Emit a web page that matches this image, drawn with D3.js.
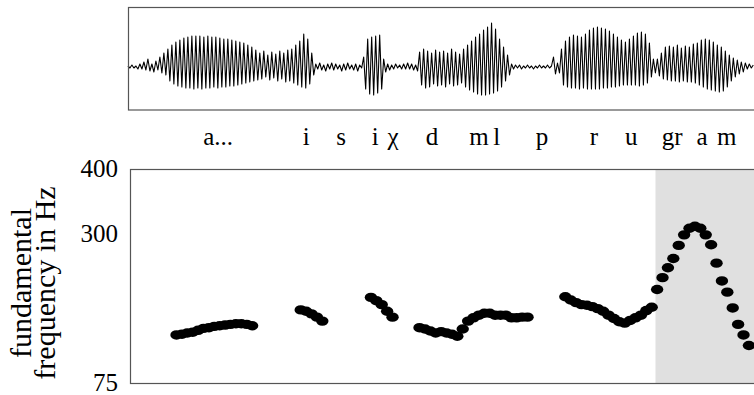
<!DOCTYPE html>
<html>
<head>
<meta charset="utf-8">
<script src="https://cdn.jsdelivr.net/npm/d3@7"></script>
<style>
  body { margin: 0; background: #fff; }
  text { font-family: 'Liberation Serif', 'Times New Roman', serif; fill: #000; }
</style>
</head>
<body>
<div id="chart"></div>
<script>
// speech signal, one value per sample (arbitrary amplitude units)
const waveform = [
  1, -1, 2, -1, 1, -2, 3, -2, 5, -3, 8, -4, 3, -5, 6, -3,
  10, -6, 14, -8,
  18, -14, 22, -17, 25, -19, 27, -20, 29, -21, 30, -21, 31, -22, 31, -21, 31, -22,
  30, -21, 31, -21, 30, -20, 30, -21, 29, -20, 28, -20, 28, -19, 27, -19, 26, -18,
  25, -17, 24, -16, 22, -15, 20, -14, 17,
  -13, 14, -12, 16, -10, 12, -13, 15, -11, 13, -14, 16, -12, 14, -15, 17,
  -14, 18, -16, 22, -18, 26, -20, 33, -21, 28, -17, 14, -8,
  3, -2, 4, -3, 2, -4, 3, -2, 4, -3, 3, -2, 2, -4, 3, -3, 4, -2, 2, -3, 3, -4, 2, -1,
  10, -22, 28, -27, 30, -28, 31, -26, 32, -22, 8,
  -5, 3, -3, 2, -2, 3, -1, 2, -2, 3, -2, 4, -2, 3, -3, 2, -4,
  15, -18, 18, -21, 16, -20, 14, -17, 17, -19, 15, -18, 16, -20, 14, -17, 18, -19, 15, -18, 13, -16,
  18, -20, 22, -23, 26, -25, 30, -27, 33, -28, 37, -28, 40, -27, 44, -26, 38,
  -24, 28, -20, 20, -14, 12, -8,
  3, -2, 2, -1, 2, -2, 1, -1, 2, -1, 1, -2, 1, -1, 2, -1, 1, -1, 2, -1, 1,
  10, -7, 4, -6,
  18, -18, 26, -20, 30, -21, 32, -21, 31, -22, 30, -21, 33, -22, 37, -22, 39, -22,
  40, -22, 39, -21, 38, -21, 36, -20, 33, -20, 30, -19, 27, -18, 25, -18, 28, -18,
  31, -18, 34, -19, 35, -18, 33, -16, 24, -10, 8,
  -6, 8, -9, 14, -12, 20, -13, 21, -14, 20, -14, 22, -15, 19, -14, 21, -15, 20, -15, 23, -16, 24, -18,
  27, -20, 28, -22, 27, -23, 25, -24, 22, -25, 20, -24, 16, -20, 12, -14,
  9, -10, 7, -7, 5, -5, 4, -2, 3, -1, 2
];
const waveStart = -0.002; // s
const waveStep = 0.0037;  // s per sample

// segment labels and where they sit in time (s)
const phonemes = ['a...', 'i', 's', 'i', 'χ', 'd', 'm', 'l', 'p', 'r', 'u', 'gr', 'a', 'm'];
const phonemeTimes = [0.165, 0.328, 0.393, 0.456, 0.489, 0.561, 0.648, 0.681, 0.765, 0.861, 0.930, 1.006, 1.061, 1.107];

// pitch track, one frame every 10 ms, null = unvoiced
const f0Start = 0.008;
const f0Step = 0.01;
const f0Hz = [
  null, null, null, null, null, null, null, null,
  148, 149, 151, 152, 155, 158, 159, 161, 162, 163, 164, 165, 165, 164, 162,
  null, null, null, null, null, null, null, null,
  186, 184, 180, 175, 169,
  null, null, null, null, null, null, null, null,
  205, 200, 194, 184, 175,
  null, null, null, null,
  159, 157, 154, 151, 153, 151, 149, 146, 157, 169, 174, 178, 181, 181, 178, 178, 178, 174, 174, 175, 175,
  null, null, null, null, null, null,
  206, 201, 197, 194, 193, 191, 188, 184, 178, 173, 168, 166, 170, 174, 178, 185, 190,
  217, 235, 250, 264, 284, 300, 310, 313, 310, 300, 285, 257, 230, 213, 189, 164, 148, 132
];

const yTicks = [75, 300, 400];
const highlightFrom = 0.975; // s, shaded stretch to the end

const width = 754;
const height = 395;

const svg = d3
  .select('#chart')
  .append('svg')
  .attr('width', width)
  .attr('height', height);

const x = d3.scaleLinear().domain([0, 1.16]).range([129, 755.4]);

// ---- waveform panel
const waveTop = 8, waveBottom = 110;
const yWave = d3.scaleLinear().domain([-43, 59]).range([waveBottom, waveTop]);

svg
  .append('path')
  .datum(waveform)
  .attr('fill', 'none')
  .attr('stroke', '#000')
  .attr('stroke-width', 1.1)
  .attr('stroke-linejoin', 'round')
  .attr(
    'd',
    d3
      .line()
      .x((d, i) => x(waveStart + i * waveStep))
      .y((d) => yWave(d))
  );

svg
  .append('rect')
  .attr('x', 128.5)
  .attr('y', waveTop - 0.5)
  .attr('width', 700)
  .attr('height', waveBottom - waveTop + 0.5)
  .attr('fill', 'none')
  .attr('stroke', '#555')
  .attr('stroke-width', 1.2);

// ---- segment labels
svg
  .append('g')
  .selectAll('text')
  .data(phonemes)
  .enter()
  .append('text')
  .attr('x', (d, i) => x(phonemeTimes[i]))
  .attr('y', 145)
  .attr('text-anchor', 'middle')
  .style('font-size', '25px')
  .text((d) => d);

// ---- F0 panel
const plotTop = 169, plotBottom = 383;
const y = d3.scaleLinear().domain([75, 400]).range([plotBottom, plotTop]);

svg
  .append('rect')
  .attr('x', x(highlightFrom))
  .attr('y', plotTop)
  .attr('width', width - x(highlightFrom) + 10)
  .attr('height', plotBottom - plotTop)
  .attr('fill', '#e0e0e0');

const frames = f0Hz
  .map((v, i) => ({ t: f0Start + i * f0Step, hz: v }))
  .filter((d) => d.hz !== null);

svg
  .append('g')
  .selectAll('ellipse')
  .data(frames)
  .enter()
  .append('ellipse')
  .attr('cx', (d) => x(d.t))
  .attr('cy', (d) => y(d.hz))
  .attr('rx', 6.2)
  .attr('ry', 4.7)
  .attr('fill', '#000');

svg
  .append('rect')
  .attr('x', 130.5)
  .attr('y', plotTop + 0.5)
  .attr('width', 700)
  .attr('height', plotBottom - plotTop)
  .attr('fill', 'none')
  .attr('stroke', '#555')
  .attr('stroke-width', 1.2);

const yAxis = svg
  .append('g')
  .attr('transform', 'translate(130,0)')
  .call(d3.axisLeft(y).tickValues(yTicks).tickSize(0).tickPadding(12));
yAxis.select('.domain').remove();
yAxis
  .selectAll('text')
  .style('font-family', "'Liberation Serif', serif")
  .style('font-size', '25px')
  .attr('dy', '0.28em');

// axis title, two lines
const title = svg
  .append('text')
  .attr('transform', 'translate(0,283) rotate(-90)')
  .attr('text-anchor', 'middle')
  .style('font-size', '30px');
title.append('tspan').attr('x', 0).attr('y', 31).text('fundamental');
title.append('tspan').attr('x', 0).attr('y', 55).text('frequency in Hz');
</script>
</body>
</html>
